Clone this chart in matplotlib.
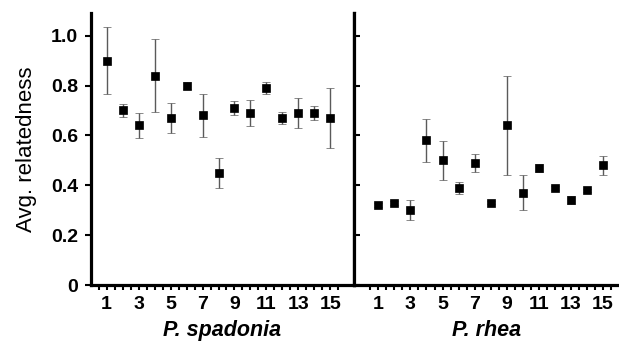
import numpy as np
import matplotlib
matplotlib.use("Agg")
import matplotlib.pyplot as plt

plt.rcParams['font.family'] = ['Liberation Sans', 'DejaVu Sans']

sites = list(range(1, 16))
spadonia_mean = [0.90, 0.70, 0.64, 0.84, 0.67, 0.80, 0.68, 0.45, 0.71, 0.69, 0.79, 0.67, 0.69, 0.69, 0.67]
spadonia_err = [0.135, 0.025, 0.05, 0.145, 0.06, 0.015, 0.085, 0.06, 0.03, 0.053, 0.025, 0.024, 0.06, 0.028, 0.12]
rhea_mean = [0.32, 0.33, 0.30, 0.58, 0.50, 0.39, 0.49, 0.33, 0.64, 0.37, 0.47, 0.39, 0.34, 0.38, 0.48]
rhea_err = [0.008, 0.008, 0.04, 0.085, 0.077, 0.024, 0.035, 0.007, 0.20, 0.07, 0.017, 0.008, 0.016, 0.007, 0.037]
y_ticks = [0, 0.2, 0.4, 0.6, 0.8, 1.0]
y_ticklabels = ['0', '0.2', '0.4', '0.6', '0.8', '1.0']
panel_names = ['P. spadonia', 'P. rhea']

W, H = 619, 345
fig = plt.figure(figsize=(W / 100, H / 100), dpi=100)
bottom = 1 - 285 / H
top = 1 - 12.5 / H
x0 = 90.7 / W
xm = 354.3 / W
ax1 = fig.add_axes([x0, bottom, xm - x0, top - bottom])
ax2 = fig.add_axes([xm, bottom, 1.0 - xm, top - bottom])

spine_lw = 2.3
tick_fs = 14
for ax, mean, err, xlim in [(ax1, spadonia_mean, spadonia_err, (0, 16.5)),
                             (ax2, rhea_mean, rhea_err, (-0.5, 16.0))]:
    ax.errorbar(sites, mean, yerr=err, fmt='s', color='black', markersize=5.2,
                markeredgewidth=0.5, markeredgecolor='black',
                ecolor='#5a5a5a', elinewidth=1.0, capsize=2.8, capthick=1.0)
    ax.set_xlim(*xlim)
    ax.set_ylim(0, 1.093)
    ax.set_xticks(sites)
    ax.set_xticklabels([str(s) if s % 2 == 1 else '' for s in sites])
    ax.set_xticks(np.arange(0.5, 16.01, 1.0), minor=True)
    ax.tick_params(axis='x', which='both', direction='out', length=3.5, width=1.5,
                   pad=4.5)
    for lab in ax.get_xticklabels():
        lab.set_fontweight('bold')
        lab.set_fontsize(tick_fs)
    ax.spines['top'].set_visible(False)
    for s in ['left', 'bottom', 'right']:
        ax.spines[s].set_linewidth(spine_lw)

ax1.spines['right'].set_visible(True)
ax2.spines['right'].set_visible(False)

ax1.set_yticks(y_ticks)
ax1.set_yticklabels(y_ticklabels, fontweight='bold', fontsize=tick_fs)
ax1.tick_params(axis='y', direction='out', length=4, width=1.5, pad=5)
ax1.set_ylabel('Avg. relatedness', fontsize=16)
ax1.yaxis.set_label_coords((27 - 90.7) / (354.3 - 90.7), 0.5)
ax1.yaxis.label.set_verticalalignment('center')

ax2.set_yticks(y_ticks)
ax2.set_yticklabels([])
ax2.tick_params(axis='y', direction='in', length=4, width=1.5)

for ax, name in zip([ax1, ax2], panel_names):
    ax.set_xlabel(name, fontsize=15.5, fontweight='bold', fontstyle='italic', labelpad=5)

fig.savefig('out.png', dpi=100)
